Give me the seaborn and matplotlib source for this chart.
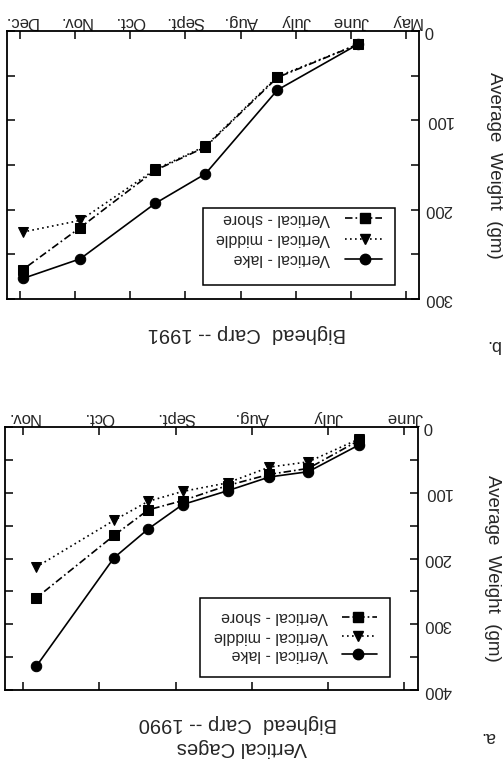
import matplotlib
matplotlib.use("Agg")
import matplotlib.pyplot as plt
import numpy as np
import pandas as pd
import seaborn as sns
from matplotlib.patches import Rectangle
from matplotlib.lines import Line2D

# ---------------- data ----------------
series_names = ["Vertical - lake", "Vertical - middle", "Vertical - shore"]

# panel a: 1990
months_1990 = ["June", "July", "Aug.", "Sept.", "Oct.", "Nov."]
month_pos_1990 = [6, 7, 8, 9, 10, 11]
x_1990 = [6.59, 7.26, 7.77, 8.32, 8.91, 9.36, 9.81, 10.83]
lake_1990 = [27, 68, 76, 97, 118, 155, 199, 364]
middle_1990 = [18, 53, 61, 85, 98, 113, 142, 213]
shore_1990 = [20, 63, 72, 89, 112, 126, 165, 260]

# panel b: 1991
months_1991 = ["May", "June", "July", "Aug.", "Sept.", "Oct.", "Nov.", "Dec."]
month_pos_1991 = [5, 6, 7, 8, 9, 10, 11, 12]
x_1991 = [5.87, 7.33, 8.64, 9.55, 10.91, 11.95]
lake_1991 = [15, 66, 160, 193, 255, 277]
middle_1991 = [15, 51, 129, 155, 212, 225]
shore_1991 = [15, 52, 130, 156, 220, 267]


def long_frame(x, lake, middle, shore):
    vals = [lake, middle, shore]
    rows = []
    for name, v in zip(series_names, vals):
        for xi, yi in zip(x, v):
            rows.append((xi, yi, name))
    return pd.DataFrame(rows, columns=["month", "weight", "series"])


df_1990 = long_frame(x_1990, lake_1990, middle_1990, shore_1990)
df_1991 = long_frame(x_1991, lake_1991, middle_1991, shore_1991)

# ---------------- style ----------------
sns.set_style("ticks")
plt.rcParams["font.family"] = ["Liberation Sans", "DejaVu Sans"]

W, H = 503, 760
fig = plt.figure(figsize=(W / 100, H / 100), dpi=100)

MS = 7.5
LW = 1.2
markers = {"Vertical - lake": "o", "Vertical - middle": "v", "Vertical - shore": "s"}
dashes = {"Vertical - lake": "", "Vertical - middle": (1, 2), "Vertical - shore": (4.5, 1.8, 1, 1.8)}
palette = {n: "black" for n in series_names}
lstyles = {"Vertical - lake": "-", "Vertical - middle": (0, (1, 2)),
           "Vertical - shore": (0, (4.5, 1.8, 1, 1.8))}


def make_axes(box):
    # box in image pixels: x0, y0 (top), x1, y1 (bottom)
    x0, y0, x1, y1 = box
    return fig.add_axes([x0 / W, 1 - y1 / H, (x1 - x0) / W, (y1 - y0) / H])


def draw_panel(ax, df, xlim, ymax, mpos, mlabels):
    sns.lineplot(data=df, x="month", y="weight", hue="series", style="series",
                 markers=markers, dashes=dashes, palette=palette,
                 markersize=MS, linewidth=LW, markeredgecolor="black",
                 legend=False, ax=ax, sort=False, estimator=None)
    ax.set_xlim(xlim)          # reversed: months increase to the left
    ax.set_ylim(ymax, 0)       # reversed: weight increases downward
    ax.set_xticks(mpos)
    ax.set_xticklabels(mlabels)
    ax.set_yticks(list(range(0, ymax + 1, 100)))
    ax.set_yticks(list(range(50, ymax, 100)), minor=True)
    ax.set_xlabel("")
    ax.set_ylabel("")
    ax.tick_params(axis="both", which="both", direction="in", top=True, bottom=True,
                   left=True, right=True, length=6, width=1.1, color="black")
    ax.tick_params(axis="x", labelbottom=False, labeltop=True, labelsize=12,
                   labelrotation=180, pad=1.5)
    ax.tick_params(axis="y", labelleft=False, labelright=True, labelsize=12,
                   labelrotation=180, pad=4)
    for t in ax.yaxis.get_major_ticks():
        t.label2.set_va("center")
        t.label2.set_ha("left")
    for s in ax.spines.values():
        s.set_linewidth(1.3)
        s.set_color("black")
        s.set_visible(True)


def draw_legend(ax, box, legbox, rows_y, handle_x, text_x):
    x0, y0, x1, y1 = box

    def ax_xy(px, py):
        return (px - x0) / (x1 - x0), (y1 - py) / (y1 - y0)

    lx0, ly0, lx1, ly1 = legbox
    ax0, ay1 = ax_xy(lx0, ly0)
    ax1_, ay0 = ax_xy(lx1, ly1)
    ax.add_patch(Rectangle((ax0, ay0), ax1_ - ax0, ay1 - ay0, transform=ax.transAxes,
                           fill=False, edgecolor="black", linewidth=1.1, zorder=5))
    order = ["Vertical - shore", "Vertical - middle", "Vertical - lake"]
    hx0, hxm, hx1 = handle_x
    for name, ry in zip(order, rows_y):
        a, yy = ax_xy(hx0, ry)
        b, _ = ax_xy(hx1, ry)
        m, _ = ax_xy(hxm, ry)
        ax.add_line(Line2D([a, b], [yy, yy], transform=ax.transAxes, color="black",
                           linestyle=lstyles[name], linewidth=LW, zorder=6))
        ax.add_line(Line2D([m], [yy], transform=ax.transAxes, color="black",
                           marker=markers[name], markersize=MS, linestyle="none", zorder=6))
        tx, _ = ax_xy(text_x, ry)
        ax.text(tx, yy, name, transform=ax.transAxes, rotation=180, ha="right",
                va="center", fontsize=11.5, zorder=6)


# ---------------- panel b (top of image) ----------------
box_b = (7, 31, 419, 299)
ax_b = make_axes(box_b)
draw_panel(ax_b, df_1991, (12.24, 4.76), 300, month_pos_1991, months_1991)
draw_legend(ax_b, box_b, (203, 208, 395, 285), [218, 239, 259], (345, 365, 382), 330)

# ---------------- panel a (bottom of image) ----------------
box_a = (5, 427, 418, 690)
ax_a = make_axes(box_a)
draw_panel(ax_a, df_1990, (11.24, 5.82), 400, month_pos_1990, months_1990)
draw_legend(ax_a, box_a, (200, 598, 390, 677), [617, 636, 654], (342, 358, 377), 328)


def ftext(px, py, s, **kw):
    fig.text(px / W, 1 - py / H, s, ha="center", va="center", **kw)


ftext(495, 165, "Average  Weight  (gm)", rotation=270, fontsize=13.5)
ftext(492, 568, "Average  Weight  (gm)", rotation=270, fontsize=13.5)
ftext(247, 333, "Bighead  Carp -- 1991", rotation=180, fontsize=14.5)
ftext(238, 724, "Bighead  Carp -- 1990", rotation=180, fontsize=14.5)
ftext(242, 748, "Vertical Cages", rotation=180, fontsize=14.5)
ftext(492, 345, "b.", rotation=180, fontsize=13)
ftext(488, 737, "a.", rotation=180, fontsize=13)

fig.savefig("out.png", dpi=100, facecolor="white")
